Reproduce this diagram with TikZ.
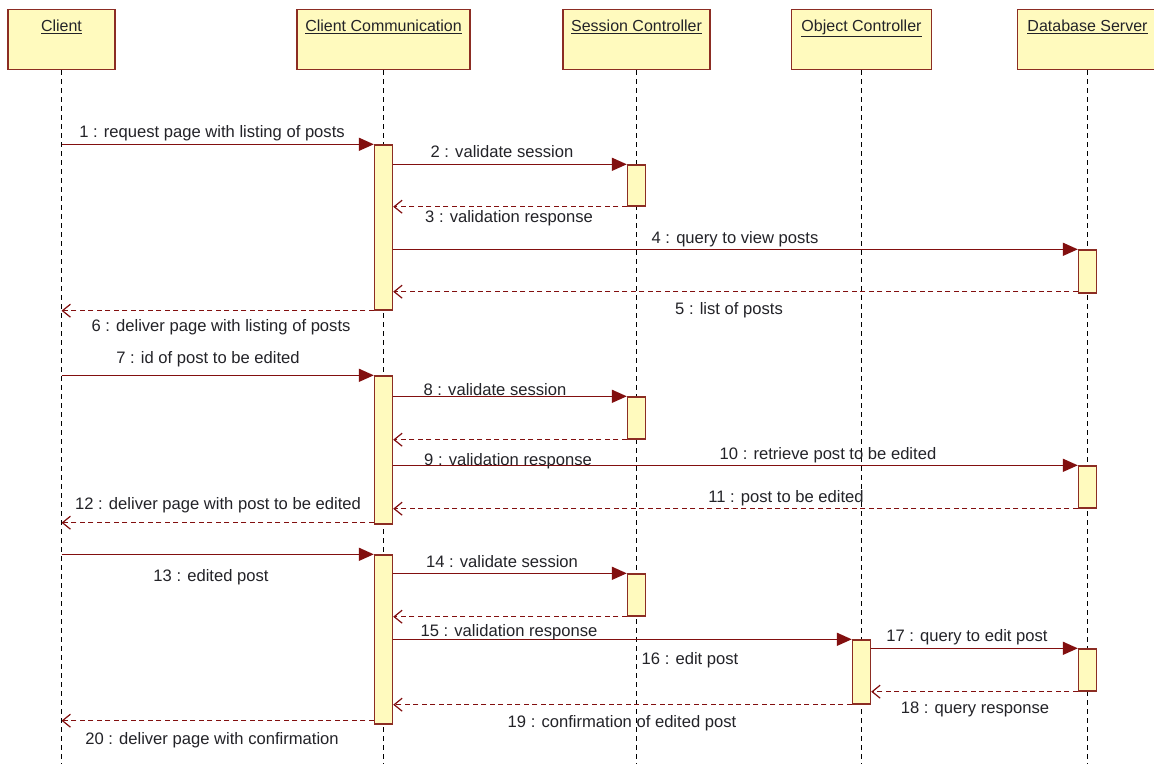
\documentclass[tikz,border=0pt]{standalone}
\usepackage{fontspec}
\setmainfont{Liberation Sans}
\usetikzlibrary{arrows.meta}
\definecolor{boxfill}{RGB}{255,250,190}
\definecolor{boxline}{RGB}{140,45,35}
\definecolor{msg}{RGB}{130,15,15}
\definecolor{txt}{RGB}{35,35,40}
\begin{document}
\begin{tikzpicture}[x=1pt,y=-1pt,
  head/.style={draw=boxline, fill=boxfill, line width=1.4pt, minimum height=60pt,
    inner xsep=0pt, inner ysep=0pt, text height=21.5pt, text depth=38.5pt,
    font=\fontsize{16}{19}\selectfont, text=txt, anchor=north},
  life/.style={draw=black, line width=1.6pt, dash pattern=on 5pt off 4pt},
  act/.style={draw=boxline, fill=boxfill, line width=1.4pt, minimum width=18pt, inner sep=0pt},
  call/.style={draw=msg, line width=1.6pt, -{Triangle[length=15pt,width=13pt]}},
  ret/.style={draw=msg, line width=1.3pt, dash pattern=on 5pt off 3.5pt,
    -{Straight Barb[length=8pt,width=13pt,line width=1.2pt]}},
  lbl/.style={font=\fontsize{16.6}{19}\selectfont, text=txt, inner sep=0pt, anchor=base}
]
\fill[white] (0,0) rectangle (1154,764);
\useasboundingbox (0,0) rectangle (1154,764);
\coordinate (bot) at (0,764);

% heads
\node[head, minimum width=107pt] (client) at (61.5,9) {\underline{Client}};
\node[head, minimum width=173pt] (comm) at (383.5,9) {\underline{Client Communication}};
\node[head, minimum width=147pt] (sess) at (636.5,9) {\underline{Session Controller}};
\node[head, minimum width=140pt] (obj) at (861.5,9) {\underline{Object Controller}};
\node[head, minimum width=140pt] (db) at (1087.5,9) {\underline{Database Server}};

% lifelines
\foreach \h in {client,comm,sess,obj,db}
  \draw[life] (\h.south) -- (\h.south |- bot);

% activations
\node[act, minimum height=165pt] (a1) at (383.5,227.5) {};
\node[act, minimum height=41pt] (s1) at (636.5,185.5) {};
\node[act, minimum height=43pt] (d1) at (1087.5,271.5) {};
\node[act, minimum height=148pt] (a2) at (383.5,450) {};
\node[act, minimum height=42pt] (s2) at (636.5,418) {};
\node[act, minimum height=42pt] (d2) at (1087.5,487) {};
\node[act, minimum height=169pt] (a3) at (383.5,639.5) {};
\node[act, minimum height=42pt] (s3) at (636.5,595) {};
\node[act, minimum height=64pt] (o1) at (861.5,672) {};
\node[act, minimum height=42pt] (d3) at (1087.5,670) {};

\coordinate (r5) at ([yshift=2pt]d1.south west);
\coordinate (r12) at ([yshift=2pt]a2.south west);
\coordinate (r20) at ([yshift=4pt]a3.south west);

% messages
\draw[call] (client |- a1.north) -- (a1.north west);
\draw[call] (a1.east |- s1.north) -- (s1.north west);
\draw[ret] (s1.south west) -- (a1.east |- s1.south);
\draw[call] (a1.east |- d1.north) -- (d1.north west);
\draw[ret] (r5) -- (a1.east |- r5);
\draw[ret] (a1.south west) -- (client |- a1.south);
\draw[call] (client |- a2.north) -- (a2.north west);
\draw[call] (a2.east |- s2.north) -- (s2.north west);
\draw[ret] (s2.south west) -- (a2.east |- s2.south);
\draw[call] (a2.east |- d2.north) -- (d2.north west);
\draw[ret] (d2.south west) -- (a2.east |- d2.south);
\draw[ret] (r12) -- (client |- r12);
\draw[call] (client |- a3.north) -- (a3.north west);
\draw[call] (a3.east |- s3.north) -- (s3.north west);
\draw[ret] (s3.south west) -- (a3.east |- s3.south);
\draw[call] (a3.east |- o1.north) -- (o1.north west);
\draw[call] (o1.east |- d3.north) -- (d3.north west);
\draw[ret] (d3.south west) -- (o1.east |- d3.south);
\draw[ret] (o1.south west) -- (a3.east |- o1.south);
\draw[ret] (r20) -- (client |- r20);

% labels
\node[lbl] (l1) at (212,137) {1 : request page with listing of posts};
\node[lbl] (l2) at (502,157) {2 : validate session};
\node[lbl] (l3) at (509,222) {3 : validation response};
\node[lbl] (l4) at (735,243) {4 : query to view posts};
\node[lbl] (l5) at (729,314) {5 : list of posts};
\node[lbl] (l6) at (221,331) {6 : deliver page with listing of posts};
\node[lbl] (l7) at (208,363) {7 : id of post to be edited};
\node[lbl] (l8) at (495,395) {8 : validate session};
\node[lbl] (l9) at (508,465) {9 : validation response};
\node[lbl] (l10) at (828,459) {10 : retrieve post to be edited};
\node[lbl] (l11) at (786,502) {11 : post to be edited};
\node[lbl] (l12) at (218,509) {12 : deliver page with post to be edited};
\node[lbl] (l13) at (211,581) {13 : edited post};
\node[lbl] (l14) at (502,567) {14 : validate session};
\node[lbl] (l15) at (509,636) {15 : validation response};
\node[lbl] (l16) at (690,664) {16 : edit post};
\node[lbl] (l17) at (967,641) {17 : query to edit post};
\node[lbl] (l18) at (975,713) {18 : query response};
\node[lbl] (l19) at (622,727) {19 : confirmation of edited post};
\node[lbl] (l20) at (212,744) {20 : deliver page with confirmation};
\end{tikzpicture}
\end{document}
